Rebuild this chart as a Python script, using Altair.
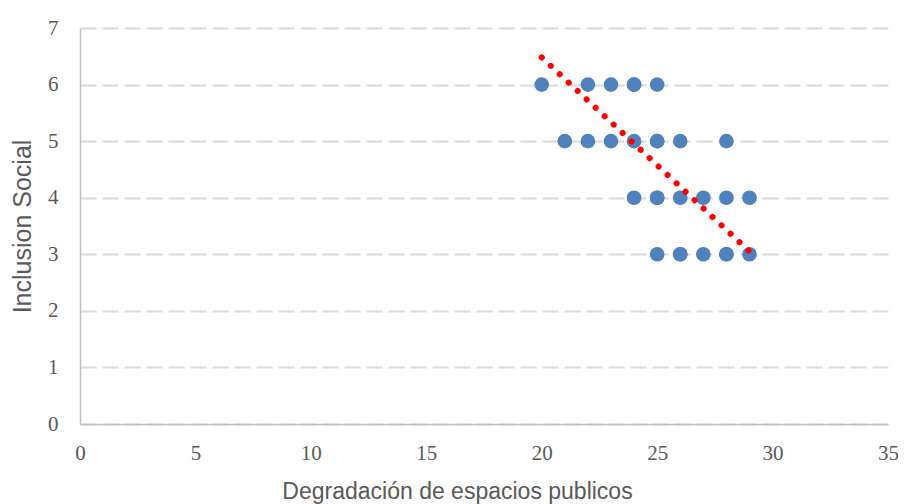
import altair as alt
import pandas as pd

# Scatter data
xs = [20, 22, 23, 24, 24, 25,
      21, 22, 23, 24, 25, 25, 26, 28,
      24, 25, 25, 26, 27, 28, 29,
      25, 26, 26, 27, 28, 28, 29]
ys = [6, 6, 6, 6, 6, 6,
      5, 5, 5, 5, 5, 5, 5, 5,
      4, 4, 4, 4, 4, 4, 4,
      3, 3, 3, 3, 3, 3, 3]

# Linear trend line endpoints
trend_x = [20, 29]
trend_y = [6.48, 3.05]

x_ticks = [0, 5, 10, 15, 20, 25, 30, 35]
y_ticks = [0, 1, 2, 3, 4, 5, 6, 7]

df = pd.DataFrame({"x": xs, "y": ys})
tdf = pd.DataFrame({"x": trend_x, "y": trend_y})

xscale = alt.Scale(domain=[0, 35], nice=False, zero=False)
yscale = alt.Scale(domain=[0, 7], nice=False, zero=False)

xaxis = alt.Axis(values=x_ticks, format="d", grid=False, ticks=False, domainColor="#BFBFBF", domainWidth=1.5,
                 labelFont="Liberation Serif", labelFontSize=21, labelColor="#595959", labelPadding=18,
                 labelFlush=False, labelOverlap=False,
                 title="Degradación de espacios publicos", titleFont="Liberation Sans", titleFontSize=23,
                 titleFontWeight="normal", titleColor="#595959",
                 titleX=377, titleY=74, titleBaseline="alphabetic", titleAlign="center")
yaxis = alt.Axis(values=y_ticks, format="d", grid=True, gridDash=[16, 6], gridColor="#D9D9D9", gridWidth=2,
                 ticks=False, domainColor="#BFBFBF", domainWidth=1.5,
                 labelFont="Liberation Serif", labelFontSize=21, labelColor="#595959", labelPadding=22,
                 labelFlush=False, labelOverlap=False,
                 title="Inclusion Social", titleFont="Liberation Sans", titleFontSize=25,
                 titleFontWeight="normal", titleColor="#595959",
                 titleX=-58, titleY=198, titleBaseline="middle", titleAlign="center", titleAngle=270)

points = alt.Chart(df).mark_circle(size=215, color="#4F81BD", opacity=1).encode(
    x=alt.X("x:Q", scale=xscale, axis=xaxis),
    y=alt.Y("y:Q", scale=yscale, axis=yaxis),
)

trend = alt.Chart(tdf).mark_line(color="#FF0000", strokeWidth=6, strokeDash=[0.1, 12.2], strokeCap="round").encode(
    x=alt.X("x:Q", scale=xscale),
    y=alt.Y("y:Q", scale=yscale),
)

chart = alt.layer(points, trend).properties(
    width=808, height=396,
    background="white",
    autosize=alt.AutoSizeParams(type="none"),
    padding={"left": 72, "top": 20, "right": 10, "bottom": 80},
).configure_view(stroke=None)

chart.save("out.html", embed_options={"renderer": "svg", "actions": False})
